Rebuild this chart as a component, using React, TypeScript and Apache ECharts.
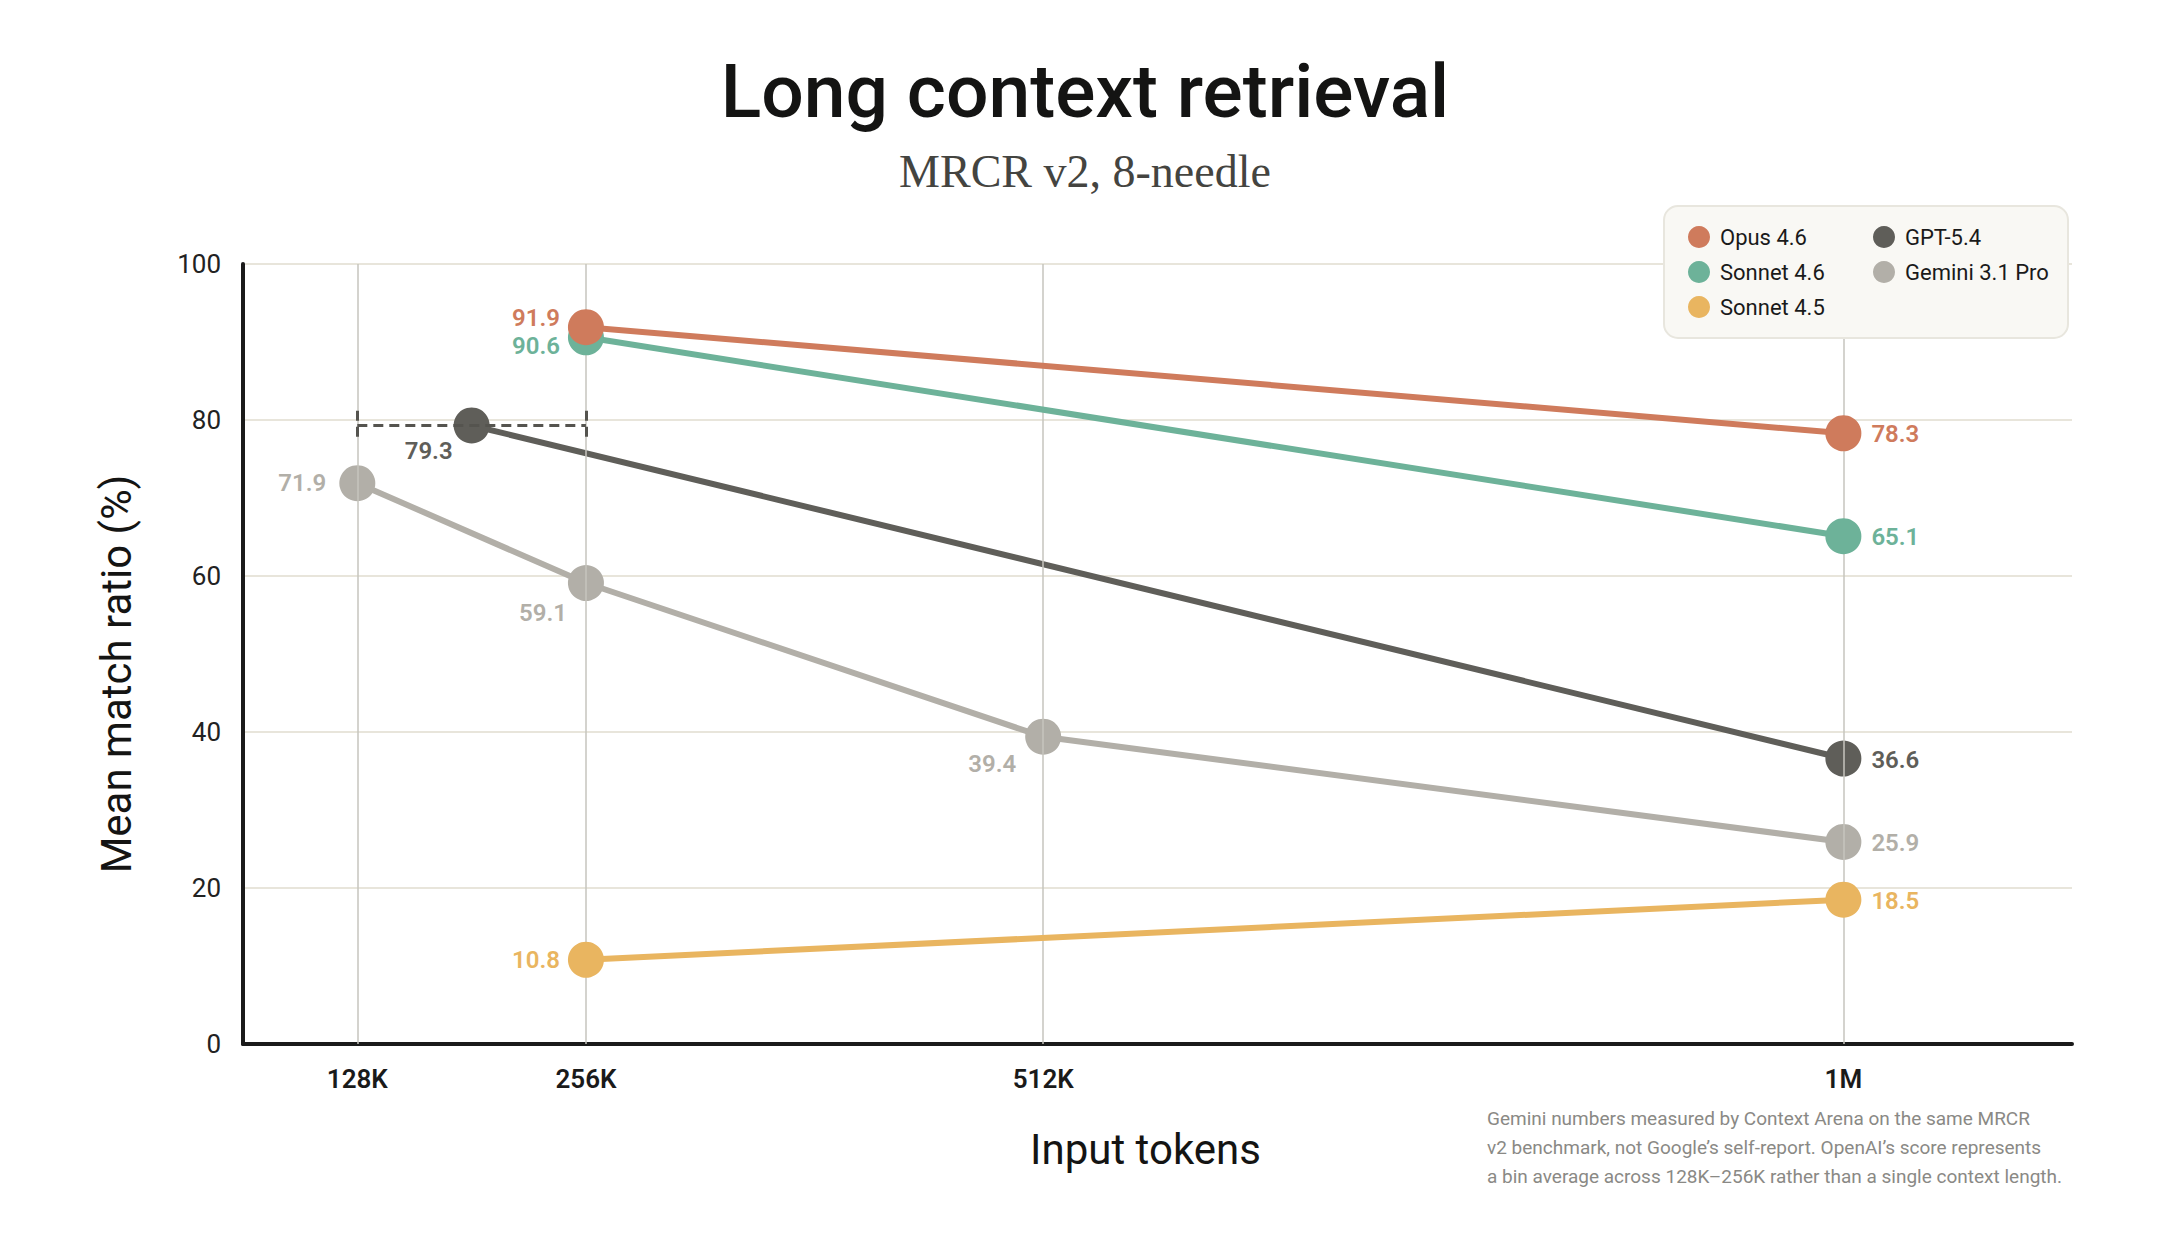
import React, { useEffect, useRef } from 'react';
import * as echarts from 'echarts';

const titleText = 'Long context retrieval';
const subtitleText = 'MRCR v2, 8-needle';
const yAxisName = 'Mean match ratio (%)';
const xAxisName = 'Input tokens';
const footnoteLines = [
  'Gemini numbers measured by Context Arena on the same MRCR',
  'v2 benchmark, not Google\u2019s self-report. OpenAI\u2019s score represents',
  'a bin average across 128K\u2013256K rather than a single context length.',
];

// x positions of the context-length ticks (in K tokens, as drawn)
const xTickValues = [128, 256, 512, 960];
const xTickLabels = ['128K', '256K', '512K', '1M'];
const xMin = 64;
const xMax = 1088;
const yMin = 0;
const yMax = 100;
const yInterval = 20;

const opusX = [256, 960];
const opusValues = [91.9, 78.3];
const sonnet46X = [256, 960];
const sonnet46Values = [90.6, 65.1];
const sonnet45X = [256, 960];
const sonnet45Values = [10.8, 18.5];
const gptX = [192, 960];
const gptValues = [79.3, 36.6];
const gptBin = [128, 256];
const geminiX = [128, 256, 512, 960];
const geminiValues = [71.9, 59.1, 39.4, 25.9];

const legendCol1 = ['Opus 4.6', 'Sonnet 4.6', 'Sonnet 4.5'];
const legendCol2 = ['GPT-5.4', 'Gemini 3.1 Pro'];

const SANS = 'Roboto, Inter, "Noto Sans", sans-serif';
const SERIF = '"Liberation Serif", "DejaVu Serif", serif';

const colors: Record<string, string> = {
  'Opus 4.6': '#cf7b5c',
  'Sonnet 4.6': '#6db299',
  'Sonnet 4.5': '#e9b560',
  'GPT-5.4': '#5f5e59',
  'Gemini 3.1 Pro': '#b2afa8',
};

type LabelSpec = { position: string; distance: number; offset?: number[] };

const leftLabel = (distance: number, dy = 0): LabelSpec => ({ position: 'left', distance, offset: [0, dy] });
const rightLabel: LabelSpec = { position: 'right', distance: 10, offset: [0, 1] };

function buildSeries(name: string, xs: number[], ys: number[], labels: LabelSpec[], z: number) {
  const color = colors[name];
  return {
    name,
    type: 'line',
    z,
    data: xs.map((x, i) => ({
      value: [x, ys[i]],
      label: { ...labels[i] },
    })),
    symbol: 'circle',
    symbolSize: 36,
    showSymbol: true,
    lineStyle: { color, width: 6 },
    itemStyle: { color },
    label: {
      show: true,
      color,
      fontFamily: SANS,
      fontSize: 24,
      fontWeight: 600,
      formatter: (p: any) => Number(p.value[1]).toFixed(1),
    },
    emphasis: { disabled: true },
  };
}

const legendBase = {
  orient: 'vertical',
  top: 226,
  padding: 0,
  itemGap: 13,
  itemWidth: 22,
  itemHeight: 22,
  icon: 'circle',
  selectedMode: false,
  z: 12,
  textStyle: { fontFamily: SANS, fontSize: 22, color: '#1a1a1a', padding: [0, 0, 0, 5], lineHeight: 22 },
};

export default function App() {
  const ref = useRef<HTMLDivElement>(null);

  useEffect(() => {
    document.body.style.margin = '0';
    if (!ref.current) return;
    const chart = echarts.init(ref.current, undefined, { renderer: 'svg' });

    const capHalf = 1.9;
    const dashStyle = { color: '#55544f', width: 3, type: [10, 6] as any };

    const option: any = {
      animation: false,
      backgroundColor: '#ffffff',
      title: [
        {
          text: titleText,
          left: 'center',
          top: 44,
          textStyle: { fontFamily: SANS, fontSize: 75, fontWeight: 500, color: '#141413', lineHeight: 84 },
        },
        {
          text: subtitleText,
          left: 'center',
          top: 140,
          textStyle: { fontFamily: SERIF, fontSize: 46, fontWeight: 400, color: '#444440', lineHeight: 52 },
        },
      ],
      grid: { left: 243, top: 264, width: 1829, height: 780, containLabel: false },
      xAxis: {
        type: 'value',
        min: xMin,
        max: xMax,
        interval: 64,
        name: xAxisName,
        nameLocation: 'middle',
        nameGap: 84,
        nameTextStyle: { fontFamily: SANS, fontSize: 42, color: '#141413', padding: [0, 24, 0, 0] },
        axisLine: { show: true, lineStyle: { color: '#1a1a1a', width: 4 } },
        axisTick: { show: false },
        splitLine: { show: false },
        axisLabel: {
          interval: 0,
          margin: 22,
          fontFamily: SANS,
          fontSize: 26,
          fontWeight: 600,
          color: '#1a1a1a',
          formatter: (v: number) => {
            const i = xTickValues.indexOf(v);
            return i >= 0 ? xTickLabels[i] : '';
          },
        },
      },
      yAxis: {
        type: 'value',
        min: yMin,
        max: yMax,
        interval: yInterval,
        name: yAxisName,
        nameLocation: 'middle',
        nameGap: 106,
        nameTextStyle: { fontFamily: SANS, fontSize: 42, color: '#141413', padding: [0, 40, 0, 0] },
        axisLine: { show: true, lineStyle: { color: '#1a1a1a', width: 4 } },
        axisTick: { show: false },
        splitLine: { show: true, lineStyle: { color: '#e8e5db', width: 2 } },
        axisLabel: { margin: 22, fontFamily: SANS, fontSize: 26, color: '#222222' },
      },
      legend: [
        { ...legendBase, data: legendCol1, left: 1688 },
        { ...legendBase, data: legendCol2, left: 1873 },
      ],
      graphic: [
        {
          type: 'rect',
          z: 10,
          shape: { x: 1664, y: 206, width: 404, height: 132, r: 14 },
          style: { fill: '#f9f8f4', stroke: '#e8e6de', lineWidth: 2 },
        },
        {
          type: 'text',
          z: 10,
          x: 1487,
          y: 1104,
          style: {
            text: footnoteLines.join('\n'),
            fontFamily: SANS,
            fontSize: 19,
            lineHeight: 29,
            fill: '#8a8985',
            textAlign: 'left',
            textVerticalAlign: 'top',
          },
        },
      ],
      series: [
        {
          name: '_grid',
          type: 'line',
          z: 1,
          data: [],
          markLine: {
            silent: true,
            symbol: ['none', 'none'],
            label: { show: false },
            lineStyle: { color: '#c6c4be', width: 1.5, type: 'solid' },
            data: xTickValues.map((v) => ({ xAxis: v })),
          },
        },
        {
          name: '_bin',
          type: 'line',
          z: 2,
          data: [],
          markLine: {
            silent: true,
            symbol: ['none', 'none'],
            label: { show: false },
            lineStyle: dashStyle,
            data: [
              [{ coord: [gptBin[0], gptValues[0]] }, { coord: [gptBin[1], gptValues[0]] }],
              [{ coord: [gptBin[0], gptValues[0] + capHalf] }, { coord: [gptBin[0], gptValues[0] - capHalf] }],
              [{ coord: [gptBin[1], gptValues[0] + capHalf] }, { coord: [gptBin[1], gptValues[0] - capHalf] }],
            ],
          },
        },
        buildSeries('Gemini 3.1 Pro', geminiX, geminiValues, [leftLabel(13), leftLabel(1, 30), leftLabel(9, 27), rightLabel], 3),
        buildSeries('GPT-5.4', gptX, gptValues, [leftLabel(1, 26), rightLabel], 4),
        buildSeries('Sonnet 4.5', sonnet45X, sonnet45Values, [leftLabel(8), rightLabel], 5),
        buildSeries('Sonnet 4.6', sonnet46X, sonnet46Values, [leftLabel(8, 9), rightLabel], 6),
        buildSeries('Opus 4.6', opusX, opusValues, [leftLabel(8, -9), rightLabel], 7),
      ],
    };

    chart.setOption(option);
    return () => chart.dispose();
  }, []);

  return <div ref={ref} style={{ width: 2170, height: 1242 }} />;
}
